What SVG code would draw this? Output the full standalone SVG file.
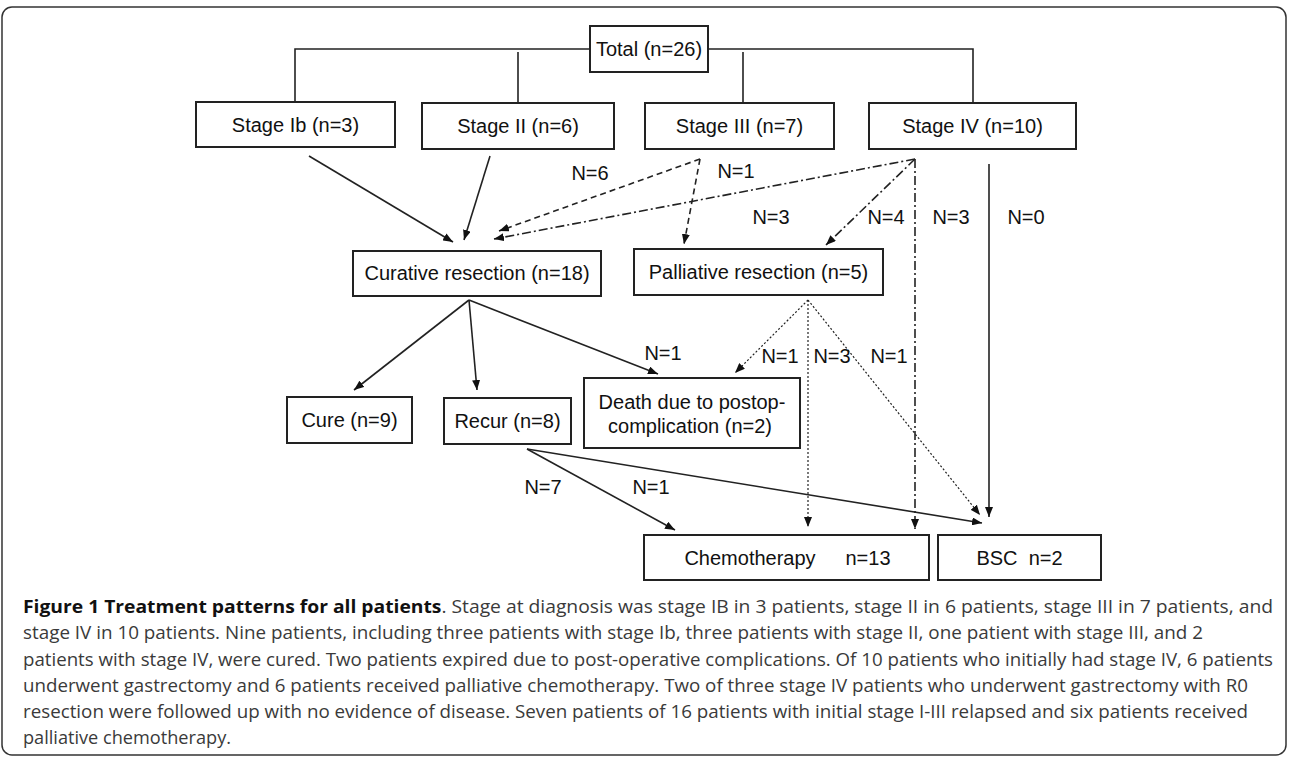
<svg xmlns="http://www.w3.org/2000/svg" width="1289" height="758" viewBox="0 0 1289 758">
<style>
.box{fill:#fff;stroke:#222;stroke-width:2}
.t{font-family:"Liberation Sans",Arial,sans-serif;font-size:20px;fill:#111;text-anchor:middle}
.lbl{font-family:"Liberation Sans",Arial,sans-serif;font-size:20px;fill:#111;text-anchor:middle}
.ln{fill:none;stroke:#222;stroke-width:1.6}
.dash{stroke-dasharray:6,4}
.dashdot{stroke-dasharray:9,3,2,3}
.dot{stroke-width:1.2;stroke-dasharray:2,2}
.cap{font-family:"Open Sans","Liberation Sans",sans-serif;font-size:17.5px;fill:#3a3a3a}
.capb{font-weight:bold;fill:#111}
</style>
<defs>
<marker id="ah" viewBox="0 0 10 8" refX="10" refY="4" markerWidth="10" markerHeight="8" markerUnits="userSpaceOnUse" orient="auto">
<path d="M0,0 L10,4 L0,8 Z" fill="#111"/>
</marker>
</defs>
<rect x="2" y="7" width="1284" height="748" rx="10" fill="#fff" stroke="#333" stroke-width="1.5"/>
<g id="connectors">
<path class="ln" d="M295,102 V49 H590 M708,49 H973 V103 M518,52 V103 M743,52 V103"/>
<path class="ln" d="M309,156 L453,242" marker-end="url(#ah)"/>
<path class="ln" d="M490,156 L464,240" marker-end="url(#ah)"/>
<path class="ln dash" d="M700,159 L499,231" marker-end="url(#ah)"/>
<path class="ln dash" d="M700,159 L684,244" marker-end="url(#ah)"/>
<path class="ln dashdot" d="M915,159 L494,239" marker-end="url(#ah)"/>
<path class="ln dashdot" d="M915,159 L826,245" marker-end="url(#ah)"/>
<path class="ln dashdot" d="M915,159 L915,529" marker-end="url(#ah)"/>
<path class="ln" d="M989,164 L989,517" marker-end="url(#ah)"/>
<path class="ln" d="M469,300 L354,390" marker-end="url(#ah)"/>
<path class="ln" d="M469,300 L477,390" marker-end="url(#ah)"/>
<path class="ln" d="M469,300 L658,374" marker-end="url(#ah)"/>
<path class="ln dot" d="M808,300 L735,373" marker-end="url(#ah)"/>
<path class="ln dot" d="M808,300 L808,527" marker-end="url(#ah)"/>
<path class="ln dot" d="M808,300 L980,515" marker-end="url(#ah)"/>
<path class="ln" d="M527,449 L675,530" marker-end="url(#ah)"/>
<path class="ln" d="M527,449 L982,523" marker-end="url(#ah)"/>
</g>
<g id="labels">
<text class="lbl" x="590" y="180">N=6</text>
<text class="lbl" x="736" y="178">N=1</text>
<text class="lbl" x="771" y="224">N=3</text>
<text class="lbl" x="886" y="224">N=4</text>
<text class="lbl" x="951" y="224">N=3</text>
<text class="lbl" x="1026" y="224">N=0</text>
<text class="lbl" x="663" y="360">N=1</text>
<text class="lbl" x="780" y="363">N=1</text>
<text class="lbl" x="832" y="363">N=3</text>
<text class="lbl" x="889" y="363">N=1</text>
<text class="lbl" x="543" y="494">N=7</text>
<text class="lbl" x="651" y="494">N=1</text>
</g>
<g id="total"><rect class="box" x="590" y="26" width="118" height="46"/><text class="t" x="649" y="56">Total (n=26)</text></g>
<g id="stage-ib"><rect class="box" x="196" y="102" width="199" height="45"/><text class="t" x="295.5" y="132">Stage Ib (n=3)</text></g>
<g id="stage-ii"><rect class="box" x="422" y="103" width="192" height="46"/><text class="t" x="518" y="133">Stage II (n=6)</text></g>
<g id="stage-iii"><rect class="box" x="645" y="103" width="189" height="46"/><text class="t" x="739.5" y="133">Stage III (n=7)</text></g>
<g id="stage-iv"><rect class="box" x="869" y="103" width="207" height="46"/><text class="t" x="972.5" y="133">Stage IV (n=10)</text></g>
<g id="curative"><rect class="box" x="353" y="251" width="248" height="45"/><text class="t" x="477" y="280">Curative resection (n=18)</text></g>
<g id="palliative"><rect class="box" x="634" y="249" width="249" height="46"/><text class="t" x="758.5" y="279">Palliative resection (n=5)</text></g>
<g id="cure"><rect class="box" x="287" y="397" width="125" height="46"/><text class="t" x="349.5" y="427">Cure (n=9)</text></g>
<g id="recur"><rect class="box" x="444" y="398" width="127" height="46"/><text class="t" x="507.5" y="428">Recur (n=8)</text></g>
<g id="death"><rect class="box" x="584" y="378" width="216" height="70"/><text class="t" x="692" y="409">Death due to postop-</text><text class="t" x="690" y="433">complication (n=2)</text></g>
<g id="chemo"><rect class="box" x="644" y="535" width="285" height="45"/><text class="t" y="565"><tspan x="750">Chemotherapy</tspan><tspan x="868">n=13</tspan></text></g>
<g id="bsc"><rect class="box" x="938" y="535" width="163" height="45"/><text class="t" x="1019.5" y="565" xml:space="preserve">BSC  n=2</text></g>
<g id="caption">
<text class="cap" x="23" y="613" textLength="1250" lengthAdjust="spacingAndGlyphs"><tspan class="capb">Figure 1 Treatment patterns for all patients</tspan>. Stage at diagnosis was stage IB in 3 patients, stage II in 6 patients, stage III in 7 patients, and</text>
<text class="cap" x="23" y="639" textLength="1180" lengthAdjust="spacingAndGlyphs">stage IV in 10 patients. Nine patients, including three patients with stage Ib, three patients with stage II, one patient with stage III, and 2</text>
<text class="cap" x="23" y="666" textLength="1250" lengthAdjust="spacingAndGlyphs">patients with stage IV, were cured. Two patients expired due to post-operative complications. Of 10 patients who initially had stage IV, 6 patients</text>
<text class="cap" x="23" y="692" textLength="1225" lengthAdjust="spacingAndGlyphs">underwent gastrectomy and 6 patients received palliative chemotherapy. Two of three stage IV patients who underwent gastrectomy with R0</text>
<text class="cap" x="23" y="718" textLength="1225" lengthAdjust="spacingAndGlyphs">resection were followed up with no evidence of disease. Seven patients of 16 patients with initial stage I-III relapsed and six patients received</text>
<text class="cap" x="23" y="744" textLength="208" lengthAdjust="spacingAndGlyphs">palliative chemotherapy.</text>
</g>
</svg>
